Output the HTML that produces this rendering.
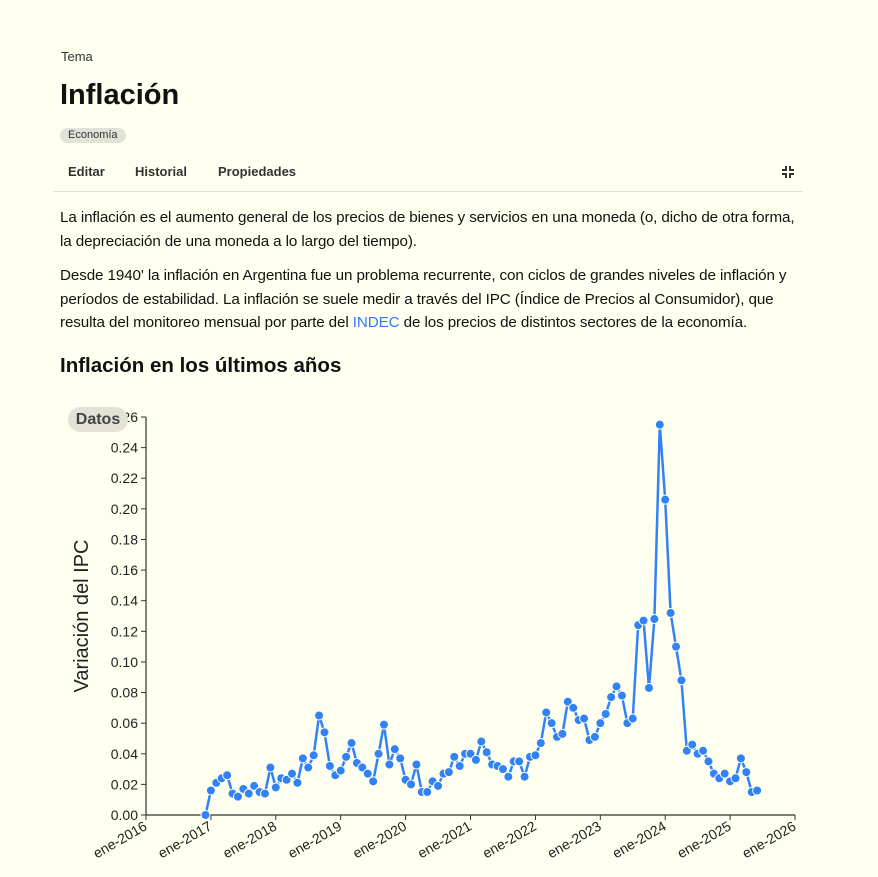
<!DOCTYPE html>
<html><head><meta charset="utf-8">
<style>
body{margin:0;background:#fffff0;font-family:"Liberation Sans",sans-serif;color:#111;width:878px;height:877px;overflow:hidden;position:relative}
.abs{position:absolute}
p{margin:0}
</style></head><body>
<div class="abs" style="left:61px;top:49px;font-size:13px;color:#333">Tema</div>
<div class="abs" style="left:60px;top:79px;font-size:29px;font-weight:bold">Inflación</div>
<div class="abs" style="left:60px;top:128px;height:15px;padding:0 8px;border-radius:8px;background:#e2e2d8;font-size:11px;line-height:15px;color:#333">Economía</div>
<div class="abs" style="left:68px;top:164px;font-size:13px;font-weight:bold;color:#333">Editar</div>
<div class="abs" style="left:135px;top:164px;font-size:13px;font-weight:bold;color:#333">Historial</div>
<div class="abs" style="left:218px;top:164px;font-size:13px;font-weight:bold;color:#333">Propiedades</div>
<svg class="abs" style="left:782px;top:166px" width="12" height="12"><path d="M4 0v4H0M8 0v4h4M4 12V8H0M8 12V8h4" stroke="#333" stroke-width="2" fill="none"/></svg>
<div class="abs" style="left:53px;top:191px;width:750px;height:1px;background:#ddd"></div>
<div class="abs" style="left:60px;top:206px;white-space:nowrap;font-size:15.2px;letter-spacing:-0.1px;line-height:23.5px">La inflación es el aumento general de los precios de bienes y servicios en una moneda (o, dicho de otra forma,<br>la depreciación de una moneda a lo largo del tiempo).</div>
<div class="abs" style="left:60px;top:264px;white-space:nowrap;font-size:15.2px;letter-spacing:-0.1px;line-height:23.5px">Desde 1940' la inflación en Argentina fue un problema recurrente, con ciclos de grandes niveles de inflación y<br>períodos de estabilidad. La inflación se suele medir a través del IPC (Índice de Precios al Consumidor), que<br>resulta del monitoreo mensual por parte del <span style="color:#3478f6">INDEC</span> de los precios de distintos sectores de la economía.</div>
<div class="abs" style="left:60px;top:354px;font-size:20.5px;font-weight:bold">Inflación en los últimos años</div>
<svg class="abs" id="chart" style="left:0;top:0" width="878" height="877"></svg>
<div class="abs" style="left:68px;top:407px;width:60px;height:25px;border-radius:13px;background:#e2e2d8;font-size:16px;font-weight:bold;color:#444;text-align:center;line-height:25px">Datos</div>
<script>
const startYear=2016, startMonth=11; // Dec 2016
const values=[0,
0.016,0.021,0.024,0.026,0.014,0.012,0.017,0.014,0.019,0.015,0.014,0.031,
0.018,0.024,0.023,0.027,0.021,0.037,0.031,0.039,0.065,0.054,0.032,0.026,
0.029,0.038,0.047,0.034,0.031,0.027,0.022,0.040,0.059,0.033,0.043,0.037,
0.023,0.020,0.033,0.015,0.015,0.022,0.019,0.027,0.028,0.038,0.032,0.040,
0.040,0.036,0.048,0.041,0.033,0.032,0.030,0.025,0.035,0.035,0.025,0.038,
0.039,0.047,0.067,0.060,0.051,0.053,0.074,0.070,0.062,0.063,0.049,0.051,
0.060,0.066,0.077,0.084,0.078,0.060,0.063,0.124,0.127,0.083,0.128,0.255,
0.206,0.132,0.110,0.088,0.042,0.046,0.040,0.042,0.035,0.027,0.024,0.027,
0.022,0.024,0.037,0.028,0.015,0.016];
const yTicks=[0,0.02,0.04,0.06,0.08,0.10,0.12,0.14,0.16,0.18,0.20,0.22,0.24,0.26];
const xYears=[2016,2017,2018,2019,2020,2021,2022,2023,2024,2025,2026];
const NS="http://www.w3.org/2000/svg";
const svg=document.getElementById('chart');
const x0=146,x1=795,y0=815,y1=417;
const xs=t=>x0+(t-2016)/10*(x1-x0);
const ys=v=>y0-v/0.26*(y0-y1);
function el(tag,attrs,parent){const e=document.createElementNS(NS,tag);for(const k in attrs)e.setAttribute(k,attrs[k]);(parent||svg).appendChild(e);return e;}
const ax=el('path',{d:`M${x0} ${y1}V${y0}H${x1}`,stroke:'#333',fill:'none','stroke-width':1.2});


yTicks.forEach(v=>{
  const y=ys(v);
  const tk=el('line',{x1:x0-5,x2:x0,y1:y,y2:y,stroke:'#333'});
  
  
  const t=el('text',{x:x0-8,y:y+5,'text-anchor':'end','font-size':14,fill:'#222','font-family':'Liberation Sans'});
  t.textContent=v.toFixed(2);
  
  
});
xYears.forEach(yr=>{
  const x=xs(yr);
  const tk=el('line',{x1:x,x2:x,y1:y0,y2:y0+5,stroke:'#333'});
  
  
  const t=el('text',{x:x+2,y:y0+14,'text-anchor':'end','font-size':14,fill:'#222','font-family':'Liberation Sans',transform:`rotate(-30 ${x+2} ${y0+14})`});
  t.textContent='ene-'+yr;
  
  
});
const yt=el('text',{x:88,y:616,'text-anchor':'middle','font-size':20,fill:'#222','font-family':'Liberation Sans',transform:'rotate(-90 88 616)'});
yt.textContent='Variación del IPC';


const pts=values.map((v,i)=>[xs(startYear+(startMonth+i)/12),ys(v)]);
const line=el('polyline',{points:pts.map(p=>p.join(',')).join(' '),fill:'none',stroke:'#3182f6','stroke-width':2.5,'stroke-linejoin':'round'});


pts.forEach(p=>{
  const c=el('circle',{cx:p[0],cy:p[1],r:4.5,fill:'#3182f6',stroke:'#fffff0','stroke-width':1});
  
  
});
</script>
</body></html>
